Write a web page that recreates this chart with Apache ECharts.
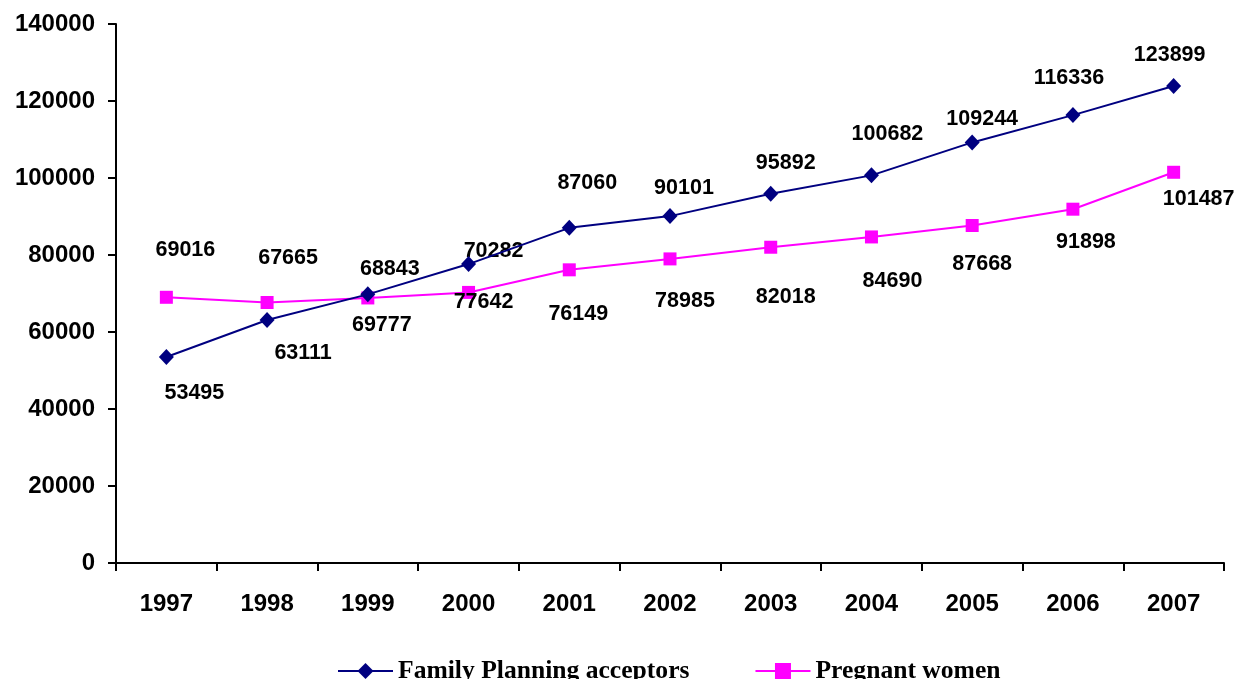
<!DOCTYPE html>
<html>
<head>
<meta charset="utf-8">
<script src="https://cdn.jsdelivr.net/npm/echarts@6/dist/echarts.min.js"></script>
<style>
  html, body { margin: 0; padding: 0; background: #fff; }
  #chart { width: 1240px; height: 679px; }
</style>
</head>
<body>
<div id="chart"></div>
<script>
const years = ['1997', '1998', '1999', '2000', '2001', '2002', '2003', '2004', '2005', '2006', '2007'];
const familyPlanning = [53495, 63111, 69777, 77642, 87060, 90101, 95892, 100682, 109244, 116336, 123899];
const pregnantWomen = [69016, 67665, 68843, 70282, 76149, 78985, 82018, 84690, 87668, 91898, 101487];

// Label nudges (pixels from each marker's centre) so the two series' labels do not collide
const fpLabelNudge = [[28, 36], [36, 33], [14, 31], [15, 38], [18, -45], [14, -28], [15, -31], [16, -41], [10, -23], [-4, -37], [-4, -31]];
const pwLabelNudge = [[19, -47], [21, -44], [22, -29], [25, -41], [9, 44], [15, 42], [15, 50], [21, 44], [10, 39], [13, 33], [25, 27]];

const sansBold = { fontFamily: '"Liberation Sans", Arial, sans-serif', fontWeight: 'bold', color: '#000' };

function withLabels(values, nudges) {
  return values.map((v, i) => ({
    value: v,
    label: { offset: nudges[i] }
  }));
}

const chart = echarts.init(document.getElementById('chart'), null, { renderer: 'canvas' });

chart.setOption({
  animation: false,
  backgroundColor: '#fff',
  grid: { left: 116, right: 16, top: 24, bottom: 116, containLabel: false },
  legend: {
    left: 332,
    top: 653,
    itemWidth: 55,
    itemHeight: 20,
    itemGap: 65,
    textStyle: {
      fontFamily: '"Liberation Serif", "Times New Roman", serif',
      fontWeight: 'bold',
      fontSize: 25.6,
      color: '#000'
    },
    data: ['Family Planning acceptors', 'Pregnant women']
  },
  xAxis: {
    type: 'category',
    data: years,
    boundaryGap: true,
    axisLine: { lineStyle: { color: '#000', width: 2 } },
    axisTick: { show: true, alignWithLabel: false, length: 8, lineStyle: { color: '#000', width: 2 } },
    axisLabel: Object.assign({ fontSize: 24, margin: 29, interval: 0 }, sansBold),
    splitLine: { show: false }
  },
  yAxis: {
    type: 'value',
    min: 0,
    max: 140000,
    interval: 20000,
    axisLine: { show: true, lineStyle: { color: '#000', width: 2 } },
    axisTick: { show: true, length: 8, lineStyle: { color: '#000', width: 2 } },
    axisLabel: Object.assign({ fontSize: 24, margin: 21, formatter: v => String(v) }, sansBold),
    splitLine: { show: false }
  },
  series: [
    {
      name: 'Family Planning acceptors',
      type: 'line',
      data: withLabels(familyPlanning, fpLabelNudge),
      symbol: 'diamond',
      symbolSize: [15, 16],
      color: '#000080',
      lineStyle: { color: '#000080', width: 2 },
      itemStyle: { color: '#000080' },
      label: Object.assign({
        show: true,
        position: 'inside',
        align: 'center',
        verticalAlign: 'middle',
        fontSize: 21.5
      }, sansBold),
      z: 3
    },
    {
      name: 'Pregnant women',
      type: 'line',
      data: withLabels(pregnantWomen, pwLabelNudge),
      symbol: 'rect',
      symbolSize: 13,
      color: '#ff00ff',
      lineStyle: { color: '#ff00ff', width: 2 },
      itemStyle: { color: '#ff00ff' },
      label: Object.assign({
        show: true,
        position: 'inside',
        align: 'center',
        verticalAlign: 'middle',
        fontSize: 21.5
      }, sansBold),
      z: 2
    }
  ]
});
</script>
</body>
</html>
